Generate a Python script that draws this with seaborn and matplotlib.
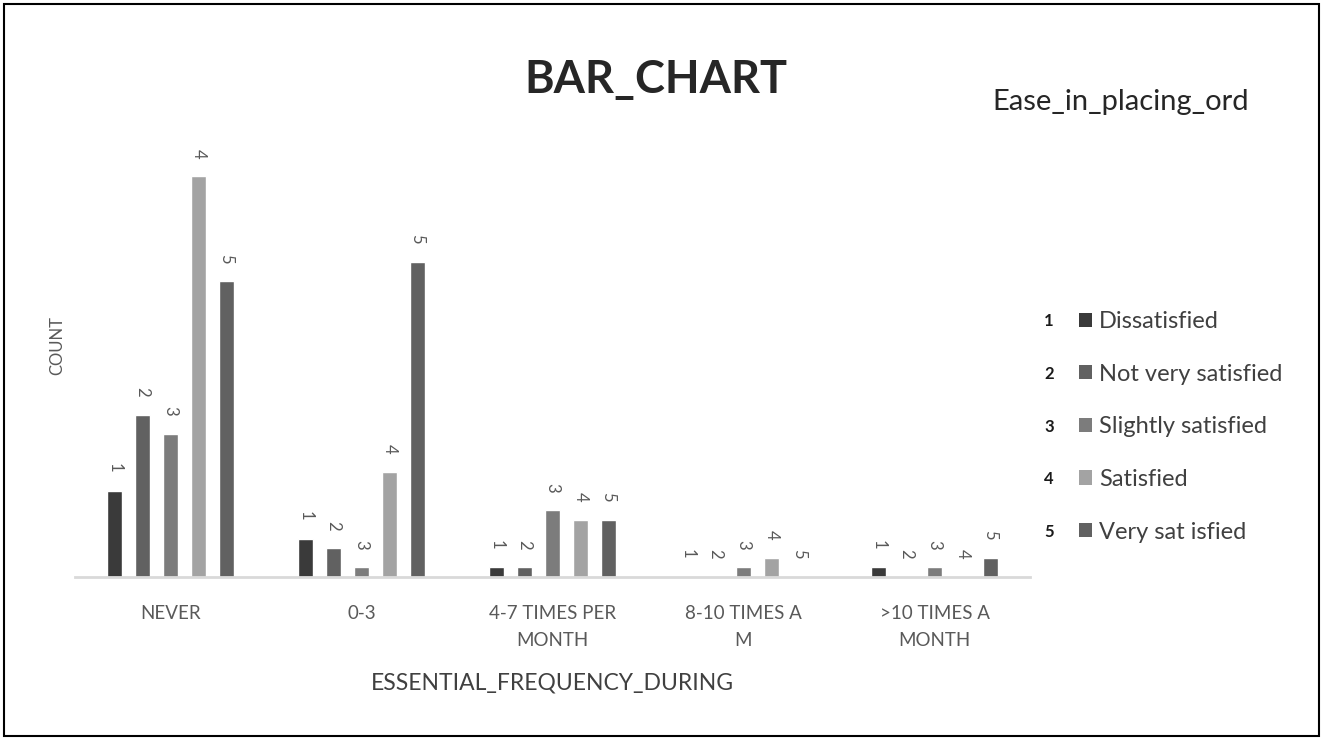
import matplotlib
matplotlib.use("Agg")
import matplotlib.pyplot as plt
from matplotlib.patches import Rectangle, Patch
import seaborn as sns
import pandas as pd

# ---- data ----
categories = ["NEVER", "0-3", "4-7 TIMES PER\nMONTH", "8-10 TIMES A\nM", ">10 TIMES A\nMONTH"]
levels = ["1", "2", "3", "4", "5"]
level_names = ["Dissatisfied", "Not very satisfied", "Slightly satisfied", "Satisfied", "Very sat isfied"]
dissatisfied = [9, 4, 1, 0, 1]
not_very_satisfied = [17, 3, 1, 0, 0]
slightly_satisfied = [15, 1, 7, 1, 1]
satisfied = [42, 11, 6, 2, 0]
very_satisfied = [31, 33, 6, 0, 2]
series = [dissatisfied, not_very_satisfied, slightly_satisfied, satisfied, very_satisfied]
colors = ["#3a3a3a", "#616161", "#7c7c7c", "#a3a3a3", "#616161"]

rows = []
for lev, vals in zip(levels, series):
    for cat, v in zip(categories, vals):
        rows.append({"cat": cat, "level": lev, "count": v})
df = pd.DataFrame(rows)

sns.set_theme(style="white")
plt.rcParams["font.family"] = ["Lato", "DejaVu Sans"]

W, H = 1323, 739
fig = plt.figure(figsize=(W / 100, H / 100), dpi=100)
fig.patch.set_facecolor("white")
ax = fig.add_axes([75 / W, 1 - 577 / H, (1030 - 75) / W, (577 - 147.7) / H])

sns.barplot(data=df, x="cat", y="count", hue="level", order=categories,
            hue_order=levels, palette=colors, width=0.733, gap=0.45,
            saturation=1, legend=False, ax=ax, errorbar=None)

ax.set_ylim(0, 45)
ax.set_xlim(-0.5, len(categories) - 0.5)
for s in ["top", "right", "left"]:
    ax.spines[s].set_visible(False)
ax.spines["bottom"].set_color("#d9d9d9")
ax.spines["bottom"].set_linewidth(2)
ax.set_yticks([])
ax.tick_params(axis="x", length=0, pad=20, labelsize=13.5, colors="#595959")
for t in ax.get_xticklabels():
    t.set_linespacing(1.75)
    t.set_va("top")

for cont, lev in zip(ax.containers, levels):
    ax.bar_label(cont, labels=[lev] * len(cont), padding=13, rotation=270,
                 fontsize=12, color="#595959")

ax.set_ylabel("COUNT", fontsize=12, color="#595959")
ax.yaxis.set_label_coords(-0.019, 0.54)
ax.yaxis.label.set_va("center")
ax.set_xlabel("ESSENTIAL_FREQUENCY_DURING", fontsize=16.5, color="#404040")
ax.xaxis.set_label_coords(0.5, (577 - 683) / (577 - 147.7))
ax.xaxis.label.set_va("center")

fig.text(656 / W, 1 - 80 / H, "BAR_CHART", fontsize=32.5, fontweight="bold",
         color="#262626", ha="center", va="center")
fig.text(1121 / W, 1 - 102 / H, "Ease_in_placing_ord", fontsize=21,
         color="#262626", ha="center", va="center")

handles = [Patch(facecolor=c, edgecolor="none") for c in colors]
leg = fig.legend(handles, level_names, loc="upper left",
                 bbox_to_anchor=(1079 / W, 1 - 311 / H), frameon=False,
                 fontsize=17, labelcolor="#404040", handlelength=0.55,
                 handleheight=0.55, handletextpad=0.3, labelspacing=1.34,
                 borderpad=0, borderaxespad=0)

fig.canvas.draw()
renderer = fig.canvas.get_renderer()
inv = fig.transFigure.inverted()
for txt, lev in zip(leg.get_texts(), levels):
    bb = txt.get_window_extent(renderer)
    yc = (bb.y0 + bb.y1) / 2
    _, yf = inv.transform((0, yc))
    fig.text(1049 / W, yf, lev, fontsize=12, fontweight="bold",
             color="#1a1a1a", ha="center", va="center")

fig.add_artist(Rectangle((4 / W, 3 / H), (1319 - 4) / W, (735 - 3) / H,
                         transform=fig.transFigure, fill=False,
                         edgecolor="black", linewidth=1.5))

fig.savefig("out.png", dpi=100)
